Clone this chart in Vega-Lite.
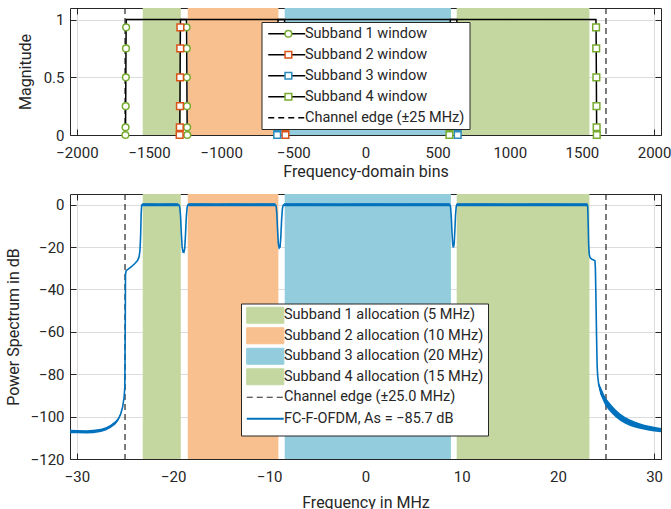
{
  "$schema": "https://vega.github.io/schema/vega-lite/v6.json",
  "padding": {"left": 5, "top": 7, "right": 0, "bottom": 0},
  "spacing": 14,
  "config": {
    "font": "Roboto",
    "view": {"stroke": null},
    "axis": {
      "labelFont": "Roboto", "labelFontSize": 15, "labelColor": "#262626",
      "titleFont": "Roboto", "titleFontSize": 16, "titleFontWeight": "normal", "titleColor": "#262626",
      "domainColor": "#262626", "tickColor": "#262626", "gridColor": "#dcdcdc",
      "tickSize": -6, "zindex": 1
    },
    "axisX": {"labelPadding": 16, "titlePadding": 3},
    "axisY": {"labelPadding": 12},
    "legend": {
      "orient": "none", "title": null, "labelFont": "Roboto", "labelFontSize": 14.5,
      "labelColor": "#262626", "labelLimit": 0, "padding": 4.5, "rowPadding": 6
    }
  },
  "resolve": {
    "scale": {"color": "independent", "stroke": "independent", "shape": "independent", "strokeDash": "independent"},
    "legend": {"color": "independent", "stroke": "independent", "shape": "independent", "strokeDash": "independent"}
  },
  "datasets": {
    "bands": [
      {"item": "Subband 1 allocation (5 MHz)", "b0": -1544, "b1": -1280, "f0": -23.16, "f1": -19.2},
      {"item": "Subband 2 allocation (10 MHz)", "b0": -1232, "b1": -604, "f0": -18.48, "f1": -9.06},
      {"item": "Subband 3 allocation (20 MHz)", "b0": -560, "b1": 592, "f0": -8.4, "f1": 8.88},
      {"item": "Subband 4 allocation (15 MHz)", "b0": 632, "b1": 1552, "f0": 9.48, "f1": 23.28}
    ],
    "edges": [
      {"b": -1666.7, "f": -25},
      {"b": 1666.7, "f": 25}
    ],
    "windows": [
      {"win": "Subband 1 window", "bin": -1664, "mag": 0},
      {"win": "Subband 1 window", "bin": -1663, "mag": 0.067},
      {"win": "Subband 1 window", "bin": -1662, "mag": 0.25},
      {"win": "Subband 1 window", "bin": -1661, "mag": 0.5},
      {"win": "Subband 1 window", "bin": -1660, "mag": 0.75},
      {"win": "Subband 1 window", "bin": -1659, "mag": 0.933},
      {"win": "Subband 1 window", "bin": -1658, "mag": 1},
      {"win": "Subband 1 window", "bin": -1241, "mag": 1},
      {"win": "Subband 1 window", "bin": -1240, "mag": 0.933},
      {"win": "Subband 1 window", "bin": -1239, "mag": 0.75},
      {"win": "Subband 1 window", "bin": -1238, "mag": 0.5},
      {"win": "Subband 1 window", "bin": -1237, "mag": 0.25},
      {"win": "Subband 1 window", "bin": -1236, "mag": 0.067},
      {"win": "Subband 1 window", "bin": -1235, "mag": 0},
      {"win": "Subband 2 window", "bin": -1288, "mag": 0},
      {"win": "Subband 2 window", "bin": -1287, "mag": 0.067},
      {"win": "Subband 2 window", "bin": -1286, "mag": 0.25},
      {"win": "Subband 2 window", "bin": -1285, "mag": 0.5},
      {"win": "Subband 2 window", "bin": -1284, "mag": 0.75},
      {"win": "Subband 2 window", "bin": -1283, "mag": 0.933},
      {"win": "Subband 2 window", "bin": -1282, "mag": 1},
      {"win": "Subband 2 window", "bin": -561, "mag": 1},
      {"win": "Subband 2 window", "bin": -560, "mag": 0.933},
      {"win": "Subband 2 window", "bin": -559, "mag": 0.75},
      {"win": "Subband 2 window", "bin": -558, "mag": 0.5},
      {"win": "Subband 2 window", "bin": -557, "mag": 0.25},
      {"win": "Subband 2 window", "bin": -556, "mag": 0.067},
      {"win": "Subband 2 window", "bin": -555, "mag": 0},
      {"win": "Subband 3 window", "bin": -612, "mag": 0},
      {"win": "Subband 3 window", "bin": -611, "mag": 0.067},
      {"win": "Subband 3 window", "bin": -610, "mag": 0.25},
      {"win": "Subband 3 window", "bin": -609, "mag": 0.5},
      {"win": "Subband 3 window", "bin": -608, "mag": 0.75},
      {"win": "Subband 3 window", "bin": -607, "mag": 0.933},
      {"win": "Subband 3 window", "bin": -606, "mag": 1},
      {"win": "Subband 3 window", "bin": 633, "mag": 1},
      {"win": "Subband 3 window", "bin": 634, "mag": 0.933},
      {"win": "Subband 3 window", "bin": 635, "mag": 0.75},
      {"win": "Subband 3 window", "bin": 636, "mag": 0.5},
      {"win": "Subband 3 window", "bin": 637, "mag": 0.25},
      {"win": "Subband 3 window", "bin": 638, "mag": 0.067},
      {"win": "Subband 3 window", "bin": 639, "mag": 0},
      {"win": "Subband 4 window", "bin": 582, "mag": 0},
      {"win": "Subband 4 window", "bin": 583, "mag": 0.067},
      {"win": "Subband 4 window", "bin": 584, "mag": 0.25},
      {"win": "Subband 4 window", "bin": 585, "mag": 0.5},
      {"win": "Subband 4 window", "bin": 586, "mag": 0.75},
      {"win": "Subband 4 window", "bin": 587, "mag": 0.933},
      {"win": "Subband 4 window", "bin": 588, "mag": 1},
      {"win": "Subband 4 window", "bin": 1597, "mag": 1},
      {"win": "Subband 4 window", "bin": 1598, "mag": 0.933},
      {"win": "Subband 4 window", "bin": 1599, "mag": 0.75},
      {"win": "Subband 4 window", "bin": 1600, "mag": 0.5},
      {"win": "Subband 4 window", "bin": 1601, "mag": 0.25},
      {"win": "Subband 4 window", "bin": 1602, "mag": 0.067},
      {"win": "Subband 4 window", "bin": 1603, "mag": 0}
    ],
    "spectrum": [
      {"f": -30.72, "db": -107.0, "lo": -107.8, "hi": -106.2},
      {"f": -30.0, "db": -107.1, "lo": -107.9, "hi": -106.3},
      {"f": -29.0, "db": -107.2, "lo": -108.0, "hi": -106.4},
      {"f": -28.3, "db": -107.0, "lo": -107.8, "hi": -106.2},
      {"f": -27.5, "db": -106.5, "lo": -107.3, "hi": -105.7},
      {"f": -27.0, "db": -105.8, "lo": -106.6, "hi": -105.0},
      {"f": -26.5, "db": -104.6, "lo": -105.4, "hi": -103.8},
      {"f": -26.0, "db": -102.9, "lo": -103.7, "hi": -102.1},
      {"f": -25.7, "db": -101.2, "lo": -101.9, "hi": -100.5},
      {"f": -25.45, "db": -98.8, "lo": -99.4, "hi": -98.2},
      {"f": -25.25, "db": -95.5, "lo": -95.9, "hi": -95.1},
      {"f": -25.1, "db": -91, "lo": -91, "hi": -91},
      {"f": -25.02, "db": -86, "lo": -86, "hi": -86},
      {"f": -24.98, "db": -60, "lo": -60, "hi": -60},
      {"f": -24.95, "db": -33, "lo": -33, "hi": -33},
      {"f": -24.88, "db": -31.2, "lo": -31.2, "hi": -31.2},
      {"f": -24.6, "db": -30.2, "lo": -30.2, "hi": -30.2},
      {"f": -24.3, "db": -29.1, "lo": -29.1, "hi": -29.1},
      {"f": -24.0, "db": -27.9, "lo": -27.9, "hi": -27.9},
      {"f": -23.7, "db": -26.4, "lo": -26.4, "hi": -26.4},
      {"f": -23.55, "db": -24.8, "lo": -24.8, "hi": -24.8},
      {"f": -23.45, "db": -22, "lo": -22, "hi": -22},
      {"f": -23.38, "db": -15, "lo": -15, "hi": -15},
      {"f": -23.32, "db": -4, "lo": -4, "hi": -4},
      {"f": -23.27, "db": -0.3, "lo": -0.3, "hi": -0.3},
      {"f": -23.2, "db": 0, "lo": -0.8, "hi": 0.6},
      {"f": -22.5, "db": 0.1, "lo": -0.8, "hi": 0.6},
      {"f": -21.5, "db": -0.1, "lo": -0.8, "hi": 0.6},
      {"f": -20.5, "db": 0.1, "lo": -0.8, "hi": 0.6},
      {"f": -19.5, "db": 0, "lo": -0.8, "hi": 0.6},
      {"f": -19.38, "db": -0.2, "lo": -0.2, "hi": -0.2},
      {"f": -19.3, "db": -1.5, "lo": -1.5, "hi": -1.5},
      {"f": -19.22, "db": -6, "lo": -6, "hi": -6},
      {"f": -19.14, "db": -14, "lo": -14, "hi": -14},
      {"f": -19.06, "db": -20, "lo": -20, "hi": -20},
      {"f": -18.98, "db": -22.3, "lo": -22.3, "hi": -22.3},
      {"f": -18.88, "db": -22.5, "lo": -22.5, "hi": -22.5},
      {"f": -18.79, "db": -20.5, "lo": -20.5, "hi": -20.5},
      {"f": -18.71, "db": -14, "lo": -14, "hi": -14},
      {"f": -18.63, "db": -6, "lo": -6, "hi": -6},
      {"f": -18.55, "db": -1.5, "lo": -1.5, "hi": -1.5},
      {"f": -18.48, "db": -0.2, "lo": -0.2, "hi": -0.2},
      {"f": -18.4, "db": 0, "lo": -0.8, "hi": 0.6},
      {"f": -17, "db": 0.1, "lo": -0.8, "hi": 0.6},
      {"f": -15.5, "db": -0.1, "lo": -0.8, "hi": 0.6},
      {"f": -14, "db": 0.1, "lo": -0.8, "hi": 0.6},
      {"f": -12.5, "db": 0, "lo": -0.8, "hi": 0.6},
      {"f": -11, "db": 0.1, "lo": -0.8, "hi": 0.6},
      {"f": -9.4, "db": 0, "lo": -0.8, "hi": 0.6},
      {"f": -9.3, "db": -0.5, "lo": -0.5, "hi": -0.5},
      {"f": -9.22, "db": -4, "lo": -4, "hi": -4},
      {"f": -9.14, "db": -12, "lo": -12, "hi": -12},
      {"f": -9.06, "db": -18.5, "lo": -18.5, "hi": -18.5},
      {"f": -8.97, "db": -20.5, "lo": -20.5, "hi": -20.5},
      {"f": -8.88, "db": -20, "lo": -20, "hi": -20},
      {"f": -8.8, "db": -15, "lo": -15, "hi": -15},
      {"f": -8.72, "db": -7, "lo": -7, "hi": -7},
      {"f": -8.64, "db": -2, "lo": -2, "hi": -2},
      {"f": -8.56, "db": -0.3, "lo": -0.3, "hi": -0.3},
      {"f": -8.45, "db": 0, "lo": -0.8, "hi": 0.6},
      {"f": -6, "db": 0.1, "lo": -0.8, "hi": 0.6},
      {"f": -3, "db": -0.1, "lo": -0.8, "hi": 0.6},
      {"f": 0, "db": 0.1, "lo": -0.8, "hi": 0.6},
      {"f": 3, "db": 0, "lo": -0.8, "hi": 0.6},
      {"f": 6, "db": 0.1, "lo": -0.8, "hi": 0.6},
      {"f": 8.75, "db": 0, "lo": -0.8, "hi": 0.6},
      {"f": 8.84, "db": -1, "lo": -1, "hi": -1},
      {"f": 8.92, "db": -6, "lo": -6, "hi": -6},
      {"f": 9.0, "db": -14, "lo": -14, "hi": -14},
      {"f": 9.07, "db": -19, "lo": -19, "hi": -19},
      {"f": 9.14, "db": -20.2, "lo": -20.2, "hi": -20.2},
      {"f": 9.22, "db": -18.5, "lo": -18.5, "hi": -18.5},
      {"f": 9.29, "db": -12, "lo": -12, "hi": -12},
      {"f": 9.36, "db": -5, "lo": -5, "hi": -5},
      {"f": 9.43, "db": -1, "lo": -1, "hi": -1},
      {"f": 9.5, "db": 0, "lo": -0.8, "hi": 0.6},
      {"f": 12, "db": 0.1, "lo": -0.8, "hi": 0.6},
      {"f": 15, "db": -0.1, "lo": -0.8, "hi": 0.6},
      {"f": 18, "db": 0.1, "lo": -0.8, "hi": 0.6},
      {"f": 21, "db": 0, "lo": -0.8, "hi": 0.6},
      {"f": 23.05, "db": 0, "lo": -0.8, "hi": 0.6},
      {"f": 23.1, "db": -1, "lo": -1, "hi": -1},
      {"f": 23.15, "db": -9, "lo": -9, "hi": -9},
      {"f": 23.2, "db": -19, "lo": -19, "hi": -19},
      {"f": 23.26, "db": -23.5, "lo": -23.5, "hi": -23.5},
      {"f": 23.35, "db": -25, "lo": -25, "hi": -25},
      {"f": 23.5, "db": -25.7, "lo": -25.7, "hi": -25.7},
      {"f": 23.7, "db": -26.1, "lo": -26.1, "hi": -26.1},
      {"f": 23.85, "db": -26.5, "lo": -26.5, "hi": -26.5},
      {"f": 23.9, "db": -30, "lo": -30, "hi": -30},
      {"f": 23.96, "db": -45, "lo": -45, "hi": -45},
      {"f": 24.02, "db": -62, "lo": -62, "hi": -62},
      {"f": 24.08, "db": -76, "lo": -76, "hi": -76},
      {"f": 24.14, "db": -81, "lo": -81, "hi": -81},
      {"f": 24.25, "db": -85, "lo": -86, "hi": -84},
      {"f": 24.4, "db": -87.5, "lo": -89.5, "hi": -85.5},
      {"f": 24.6, "db": -89.5, "lo": -91.5, "hi": -87.5},
      {"f": 24.8, "db": -91.6, "lo": -93.6, "hi": -89.6},
      {"f": 25.0, "db": -93.3, "lo": -95.3, "hi": -91.3},
      {"f": 25.3, "db": -95.0, "lo": -97.0, "hi": -93.0},
      {"f": 25.6, "db": -96.6, "lo": -98.5, "hi": -94.7},
      {"f": 26.0, "db": -98.5, "lo": -100.3, "hi": -96.7},
      {"f": 26.5, "db": -100.4, "lo": -102.1, "hi": -98.7},
      {"f": 27.0, "db": -101.8, "lo": -103.4, "hi": -100.2},
      {"f": 27.5, "db": -102.9, "lo": -104.4, "hi": -101.4},
      {"f": 28.0, "db": -103.7, "lo": -105.1, "hi": -102.3},
      {"f": 28.5, "db": -104.4, "lo": -105.7, "hi": -103.1},
      {"f": 29.0, "db": -105.0, "lo": -106.2, "hi": -103.8},
      {"f": 29.5, "db": -105.5, "lo": -106.7, "hi": -104.3},
      {"f": 30.0, "db": -105.9, "lo": -107.0, "hi": -104.8},
      {"f": 30.72, "db": -106.4, "lo": -107.4, "hi": -105.4}
    ]
  },
  "vconcat": [
    {
      "width": 591,
      "height": 127,
      "resolve": {"axis": {"x": "independent", "y": "independent"}},
      "layer": [
        {
          "data": {"name": "bands"},
          "mark": {"type": "rect"},
          "encoding": {
            "x": {"field": "b0", "type": "quantitative",
                  "scale": {"domain": [-2048, 2048], "nice": false, "zero": false},
                  "axis": {"title": "Frequency-domain bins", "format": "d", "values": [-2000, -1500, -1000, -500, 0, 500, 1000, 1500, 2000], "grid": true}},
            "x2": {"field": "b1"},
            "color": {"field": "item", "type": "nominal",
                      "scale": {"domain": ["Subband 1 allocation (5 MHz)", "Subband 2 allocation (10 MHz)", "Subband 3 allocation (20 MHz)", "Subband 4 allocation (15 MHz)"],
                                "range": ["#c5d7a0", "#f9c08f", "#93cddd", "#c5d7a0"]},
                      "legend": null}
          }
        },
        {
          "data": {"name": "edges"},
          "mark": {"type": "rule", "color": "#262626", "strokeWidth": 1.2},
          "encoding": {
            "x": {"field": "b", "type": "quantitative", "axis": null},
            "strokeDash": {"datum": "Channel edge (±25 MHz)", "type": "nominal",
                           "scale": {"domain": ["Subband 1 window", "Subband 2 window", "Subband 3 window", "Subband 4 window", "Channel edge (±25 MHz)"],
                                     "range": [[1, 0], [1, 0], [1, 0], [1, 0], [6, 4]]},
                           "legend": {"legendX": 191.5, "legendY": 14, "symbolType": "M-3.7,0H3.7", "symbolSize": 100,
                                      "symbolOffset": 13.5, "labelOffset": 11,
                                      "symbolStrokeWidth": 1.5, "symbolStrokeColor": "#000000",
                                      "fillColor": "white", "strokeColor": "#262626", "zindex": 2}}
          }
        },
        {
          "data": {"name": "windows"},
          "mark": {"type": "line", "color": "#000000", "strokeWidth": 1.5},
          "encoding": {
            "x": {"field": "bin", "type": "quantitative", "axis": null},
            "y": {"field": "mag", "type": "quantitative",
                  "scale": {"domain": [0, 1.1], "nice": false},
                  "axis": {"title": "Magnitude", "values": [0, 0.5, 1], "format": "~g", "grid": true, "titlePadding": 10}},
            "strokeDash": {"field": "win", "type": "nominal"}
          }
        },
        {
          "data": {"name": "windows"},
          "transform": [{"filter": "datum.mag < 1"}],
          "mark": {"type": "point", "filled": true, "fill": "white", "strokeWidth": 1.5, "size": 45, "opacity": 1},
          "encoding": {
            "x": {"field": "bin", "type": "quantitative",
                  "axis": {"orient": "top", "labels": false, "title": null, "grid": false, "values": [-2000, -1500, -1000, -500, 0, 500, 1000, 1500, 2000]}},
            "y": {"field": "mag", "type": "quantitative",
                  "axis": {"orient": "right", "labels": false, "title": null, "grid": false, "values": [0, 0.5, 1]}},
            "stroke": {"field": "win", "type": "nominal",
                       "scale": {"domain": ["Subband 1 window", "Subband 2 window", "Subband 3 window", "Subband 4 window"],
                                 "range": ["#77ac30", "#d95319", "#2b8cbe", "#77ac30"]},
                       "legend": {"legendX": 206.65, "legendY": 14, "symbolSize": 45, "symbolStrokeWidth": 1.5,
                                  "symbolFillColor": "white", "labelExpr": "''", "zindex": 3}},
            "shape": {"field": "win", "type": "nominal",
                      "scale": {"domain": ["Subband 1 window", "Subband 2 window", "Subband 3 window", "Subband 4 window"],
                                "range": ["circle", "square", "square", "square"]}}
          }
        }
      ]
    },
    {
      "width": 591,
      "height": 265,
      "resolve": {"axis": {"x": "independent", "y": "independent"}},
      "layer": [
        {
          "data": {"name": "bands"},
          "mark": {"type": "rect"},
          "encoding": {
            "x": {"field": "f0", "type": "quantitative",
                  "scale": {"domain": [-30.72, 30.72], "nice": false, "zero": false},
                  "axis": {"title": "Frequency in MHz", "values": [-30, -20, -10, 0, 10, 20, 30], "grid": true, "titlePadding": 10}},
            "x2": {"field": "f1"},
            "color": {"field": "item", "type": "nominal",
                      "scale": {"domain": ["Subband 1 allocation (5 MHz)", "Subband 2 allocation (10 MHz)", "Subband 3 allocation (20 MHz)", "Subband 4 allocation (15 MHz)", "Channel edge (±25.0 MHz)", "FC-F-OFDM, As = −85.7 dB"],
                                "range": ["#c5d7a0", "#f9c08f", "#93cddd", "#c5d7a0", "#262626", "#0072bd"]},
                      "legend": {
                        "legendX": 171, "legendY": 109.5, "symbolSize": 100,
                        "symbolOffset": 12.5, "labelOffset": 11.5, "padding": 4.5, "rowPadding": -1.5,
                        "fillColor": "white", "strokeColor": "#262626", "zindex": 2,
                        "encode": {
                          "symbols": {
                            "update": {
                              "shape": {"signal": "datum.index < 4 ? 'M-3.7,-1.6H3.7V1.6H-3.7Z' : 'M-3.7,-1.6M-3.7,1.6M-3.7,0H3.7'"},
                              "fill": {"signal": "['#c5d7a0','#f9c08f','#93cddd','#c5d7a0','transparent','transparent'][datum.index]"},
                              "stroke": {"signal": "datum.index < 4 ? 'transparent' : (datum.index == 4 ? '#262626' : '#0072bd')"},
                              "strokeDash": {"signal": "datum.index == 4 ? [6, 4] : [1, 0]"},
                              "strokeWidth": {"signal": "datum.index == 5 ? 2 : 1.2"},
                              "opacity": {"value": 1}
                            }
                          }
                        }
                      }}
          }
        },
        {
          "data": {"name": "edges"},
          "mark": {"type": "rule", "strokeDash": [6, 4], "strokeWidth": 1.2},
          "encoding": {
            "x": {"field": "f", "type": "quantitative", "axis": null},
            "color": {"datum": "Channel edge (±25.0 MHz)", "type": "nominal"}
          }
        },
        {
          "data": {"name": "spectrum"},
          "mark": {"type": "area", "opacity": 1},
          "encoding": {
            "x": {"field": "f", "type": "quantitative",
                  "axis": {"orient": "top", "labels": false, "title": null, "grid": false, "values": [-30, -20, -10, 0, 10, 20, 30]}},
            "y": {"field": "lo", "type": "quantitative",
                  "axis": {"orient": "right", "labels": false, "title": null, "grid": false, "values": [-120, -100, -80, -60, -40, -20, 0]}},
            "y2": {"field": "hi"},
            "color": {"datum": "FC-F-OFDM, As = −85.7 dB", "type": "nominal"}
          }
        },
        {
          "data": {"name": "spectrum"},
          "mark": {"type": "line", "strokeWidth": 1.6},
          "encoding": {
            "x": {"field": "f", "type": "quantitative", "axis": null},
            "y": {"field": "db", "type": "quantitative",
                  "scale": {"domain": [-120, 5], "nice": false, "zero": false},
                  "axis": {"title": "Power Spectrum in dB", "values": [-120, -100, -80, -60, -40, -20, 0], "grid": true, "titlePadding": 9}},
            "color": {"datum": "FC-F-OFDM, As = −85.7 dB", "type": "nominal"}
          }
        }
      ]
    }
  ]
}
